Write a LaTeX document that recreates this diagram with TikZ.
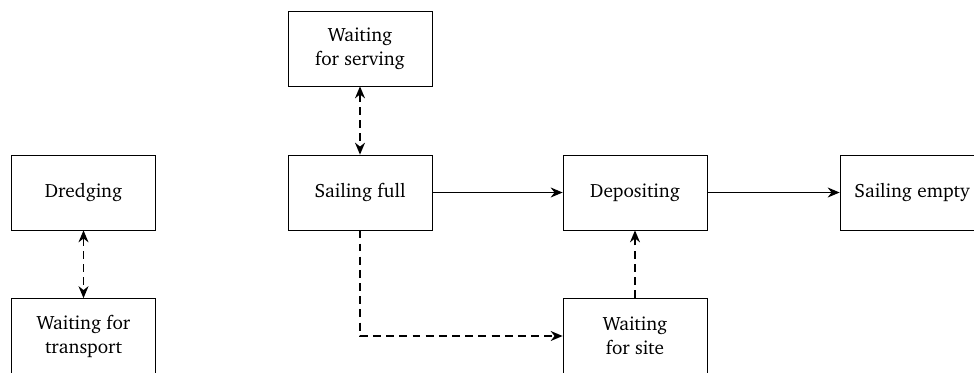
\documentclass[tikz,border=0pt,11pt]{standalone}
\usepackage[T1]{fontenc}
\usepackage{charter}
\usepackage{tikz}
\usetikzlibrary{arrows.meta,positioning}

\begin{document}
\begin{tikzpicture}[
  state/.style={rectangle, draw, thin, minimum width=2.88cm, minimum height=1.5cm, align=center},
  flow/.style={-{Stealth[length=2.4mm,width=2mm]}, thick},
  wait/.style={{Stealth[length=2.4mm,width=2mm]}-{Stealth[length=2.4mm,width=2mm]}, thick, dash pattern=on 4.5pt off 3pt},
  detour/.style={-{Stealth[length=2.4mm,width=2mm]}, thick, dash pattern=on 4.5pt off 3pt}
]
\useasboundingbox (0,0) rectangle (19.48,-7.44);

% States
\node[state] (dredge) at (1.67,-3.85) {Dredging};
\node[state] (wtrans) at (1.67,-6.72) {Waiting for\\transport};
\node[state] (wserve) at (7.2,-0.97) {Waiting\\for serving};
\node[state] (sfull) at (7.2,-3.85) {Sailing full};
\node[state] (depos) at (12.7,-3.85) {Depositing};
\node[state] (sempty) at (18.24,-3.85) {Sailing empty};
\node[state] (wsite) at (12.7,-6.72) {Waiting\\for site};

% Main cycle
\draw[flow] (sfull) -- (depos);
\draw[flow] (depos) -- (sempty);

% Waiting states
\draw[wait] (dredge) -- (wtrans);
\draw[wait] (wserve) -- (sfull);
\draw[detour] (sfull) |- (wsite);
\draw[detour] (wsite) -- (depos);

\end{tikzpicture}
\end{document}
